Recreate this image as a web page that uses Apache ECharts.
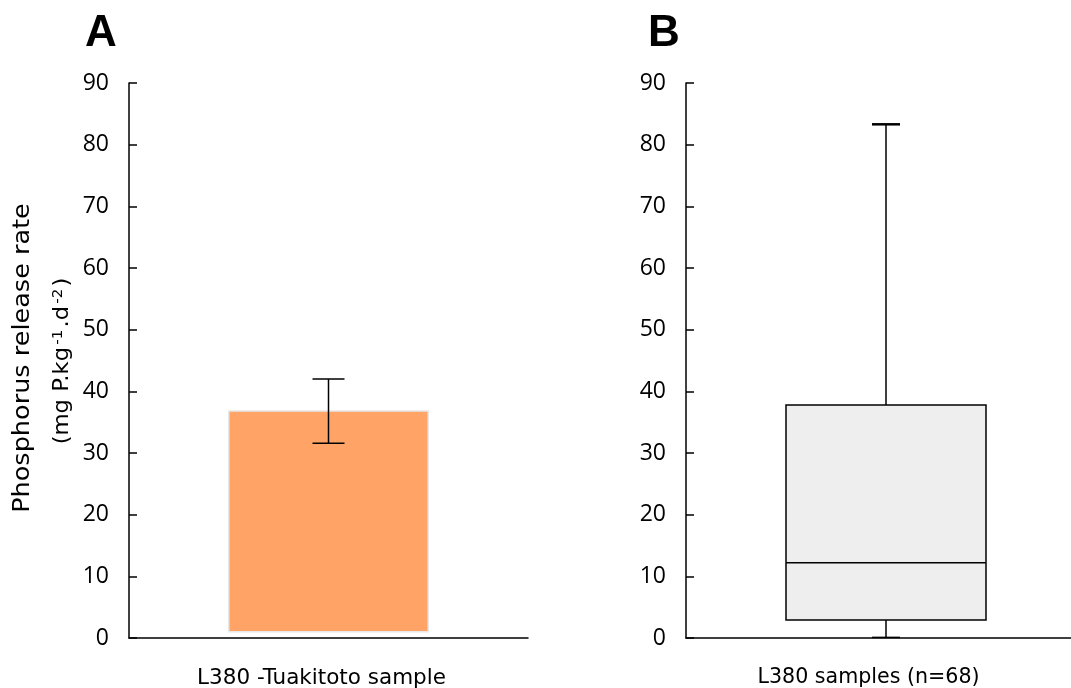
<!DOCTYPE html>
<html>
<head>
<meta charset="utf-8">
<script src="https://cdn.jsdelivr.net/npm/echarts@6/dist/echarts.min.js"></script>
<style>
  html, body { margin: 0; padding: 0; background: #fff; overflow: hidden; }
  #chart { width: 1090px; height: 688px; }
</style>
</head>
<body>
<div id="chart"></div>
<script>
// Panel A: single Tuakitoto sample (bar with error bar)
const catsA = ['L380 -Tuakitoto sample'];
const barBase = [1.0];
const barTop = [36.8];
const errLow = [31.6];
const errHigh = [42.0];

// Panel B: all L380 samples (box plot: min, Q1, median, Q3, max)
const catsB = ['L380 samples (n=68)'];
const boxStats = [[0.1, 2.9, 12.2, 37.8, 83.3]];

// Shared y-axis ticks
const yMin = 0, yMax = 90, yStep = 10;

const TICK_FONT = '"Open Sans", "Noto Sans", sans-serif';
const NAME_FONT = '"DejaVu Sans", sans-serif';

const chart = echarts.init(document.getElementById('chart'));

function yAxisCfg(gridIndex) {
  return {
    type: 'value', gridIndex, min: yMin, max: yMax, interval: yStep,
    axisLine: { show: true, lineStyle: { color: '#000', width: 1.5 } },
    axisTick: { show: true, inside: true, length: 8, lineStyle: { color: '#000', width: 1.5 } },
    axisLabel: { color: '#000', fontSize: 23, fontFamily: TICK_FONT, margin: 20 },
    splitLine: { show: false }
  };
}

function xAxisCfg(gridIndex, cats, shift, size) {
  return {
    type: 'category', gridIndex, data: cats,
    axisLine: { show: true, lineStyle: { color: '#000', width: 1.5 } },
    axisTick: { show: false },
    axisLabel: { show: false },
    name: cats[0], nameLocation: 'middle', nameGap: 29,
    nameTextStyle: { color: '#000', fontSize: size, fontFamily: NAME_FONT, padding: [0, shift, 0, 0] }
  };
}

const option = {
  backgroundColor: '#fff',
  animation: false,
  grid: [
    { left: 129, top: 83, width: 399, height: 555, outerBoundsMode: 'none', containLabel: false },
    { left: 686, top: 83, width: 400, height: 555, outerBoundsMode: 'none', containLabel: false }
  ],
  xAxis: [xAxisCfg(0, catsA, 14, 21.5), xAxisCfg(1, catsB, 35, 20.6)],
  yAxis: [yAxisCfg(0), yAxisCfg(1)],
  graphic: [
    { type: 'text', left: 85, top: 12, style: { text: 'A', font: 'bold 44px "Liberation Sans", Arial, sans-serif', fill: '#000' } },
    { type: 'text', left: 648, top: 12, style: { text: 'B', font: 'bold 44px "Liberation Sans", Arial, sans-serif', fill: '#000' } },
    {
      type: 'text', x: 23, y: 358, rotation: Math.PI / 2, scaleX: 1.11,
      style: { text: 'Phosphorus release rate', fontSize: 23, fontFamily: NAME_FONT, fill: '#000', align: 'center', verticalAlign: 'middle' }
    },
    {
      type: 'text', x: 63, y: 361, rotation: Math.PI / 2, scaleX: 1.08,
      style: {
        text: '(mg P.kg{sup|-1}.d{sup|-2})',
        fontSize: 21, fontFamily: NAME_FONT, fill: '#000', align: 'center', verticalAlign: 'middle',
        rich: { sup: { fontSize: 14, fontFamily: NAME_FONT, fill: '#000', verticalAlign: 'top', padding: [0, 2, 10, 2] } }
      }
    }
  ],
  series: [
    {
      // floating bar from barBase to barTop
      type: 'custom', xAxisIndex: 0, yAxisIndex: 0,
      data: catsA.map((c, i) => [i, barBase[i], barTop[i]]),
      renderItem: function (params, api) {
        const lo = api.coord([api.value(0), api.value(1)]);
        const hi = api.coord([api.value(0), api.value(2)]);
        const bw = api.size([1, 0])[0] * 0.5;
        return {
          type: 'rect',
          shape: { x: lo[0] - bw / 2, y: hi[1], width: bw, height: lo[1] - hi[1] },
          style: { fill: '#FFA466', stroke: '#E8E8E8', lineWidth: 1.5 }
        };
      }
    },
    {
      // error bar
      type: 'custom', xAxisIndex: 0, yAxisIndex: 0, z: 5,
      data: catsA.map((c, i) => [i, errLow[i], errHigh[i]]),
      renderItem: function (params, api) {
        const lo = api.coord([api.value(0), api.value(1)]);
        const hi = api.coord([api.value(0), api.value(2)]);
        const cap = 16;
        const st = { stroke: '#000', lineWidth: 1.5 };
        return {
          type: 'group',
          children: [
            { type: 'line', shape: { x1: lo[0], y1: lo[1], x2: hi[0], y2: hi[1] }, style: st },
            { type: 'line', shape: { x1: lo[0] - cap, y1: lo[1], x2: lo[0] + cap, y2: lo[1] }, style: st },
            { type: 'line', shape: { x1: hi[0] - cap, y1: hi[1], x2: hi[0] + cap, y2: hi[1] }, style: st }
          ]
        };
      }
    },
    {
      // box plot
      type: 'custom', xAxisIndex: 1, yAxisIndex: 1,
      data: boxStats.map((s, i) => [i].concat(s)),
      renderItem: function (params, api) {
        const x = api.value(0);
        const pMin = api.coord([x, api.value(1)]);
        const pQ1 = api.coord([x, api.value(2)]);
        const pMed = api.coord([x, api.value(3)]);
        const pQ3 = api.coord([x, api.value(4)]);
        const pMax = api.coord([x, api.value(5)]);
        const bw = api.size([1, 0])[0] * 0.5;
        const cx = pQ1[0];
        const cap = 14;
        const st = { stroke: '#000', lineWidth: 1.5 };
        return {
          type: 'group',
          children: [
            { type: 'line', shape: { x1: cx, y1: pQ3[1], x2: cx, y2: pMax[1] }, style: st },
            { type: 'line', shape: { x1: cx, y1: pQ1[1], x2: cx, y2: pMin[1] }, style: st },
            { type: 'line', shape: { x1: cx - cap, y1: pMax[1], x2: cx + cap, y2: pMax[1] }, style: { stroke: '#000', lineWidth: 2.5 } },
            { type: 'line', shape: { x1: cx - cap, y1: pMin[1], x2: cx + cap, y2: pMin[1] }, style: st },
            { type: 'rect', shape: { x: cx - bw / 2, y: pQ3[1], width: bw, height: pQ1[1] - pQ3[1] }, style: { fill: '#EEEEEE', stroke: '#000', lineWidth: 1.5 } },
            { type: 'line', shape: { x1: cx - bw / 2, y1: pMed[1], x2: cx + bw / 2, y2: pMed[1] }, style: st }
          ]
        };
      }
    }
  ]
};

chart.setOption(option);
</script>
</body>
</html>
